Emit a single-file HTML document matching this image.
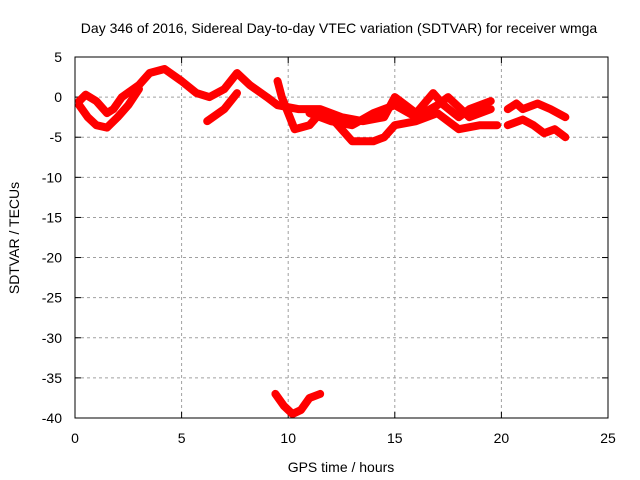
<!DOCTYPE html>
<html><head><meta charset="utf-8"><style>body{margin:0;background:#fff}svg{display:block}text{font-family:"Liberation Sans",sans-serif;font-size:14px;fill:#000}</style></head>
<body>
<svg id="c" width="640" height="480">
<text x="339" y="33" text-anchor="middle">Day 346 of 2016, Sidereal Day-to-day VTEC variation (SDTVAR) for receiver wmga</text>
<text x="341" y="472" text-anchor="middle">GPS time / hours</text>
<text transform="translate(19,238) rotate(-90)" text-anchor="middle">SDTVAR / TECUs</text>
<g id="grid"></g><g id="marks"></g>
<rect x="75" y="57" width="533" height="361" fill="none" stroke="#000"/>
</svg>
<script>
const xTicks=[0,5,10,15,20,25];
const yTicks=[5,0,-5,-10,-15,-20,-25,-30,-35,-40];
const s1=[[0.2,-0.5],[0.5,0.3],[1,-0.5],[1.5,-2],[1.8,-1.5],[2.2,0],[3,1.5],[3.5,3],[4.2,3.5],[5,2],[5.7,0.5],[6.3,0],[7,1],[7.6,3],[8.2,1.5],[9,0],[9.5,-1],[10.5,-1.5],[11.5,-1.5],[12.5,-2.5],[13.5,-3],[14.5,-2.5],[15,0],[15.5,-1],[16,-2],[16.8,0.5],[17.3,-1],[18,-2.5],[18.5,-1.5],[19.5,-0.5]];
const s2=[[0.2,-1],[0.6,-2.5],[1,-3.5],[1.5,-3.8],[2,-2.5],[2.5,-1],[3,1]];
const s3=[[6.2,-3],[7,-1.5],[7.6,0.5]];
const s4=[[9.5,2],[9.7,0],[10,-2],[10.3,-4],[11,-3.5],[11.5,-2],[12,-2.5],[12.5,-4],[13,-5.5],[14,-5.5],[14.5,-5],[15,-3.5],[16,-3],[17,-2],[17.5,-3],[18,-4],[19,-3.5],[19.8,-3.5]];
const s5=[[11,-2],[12,-3],[13,-3.5],[14,-2],[15,-1],[16,-2.5],[17,-1],[17.5,0],[18.5,-2.5],[19.5,-1.5]];
const s6=[[20.3,-1.5],[20.7,-0.8],[21,-1.5],[21.7,-0.8],[22.3,-1.5],[23,-2.5]];
const s7=[[20.3,-3.5],[21,-2.8],[21.5,-3.5],[22,-4.5],[22.5,-4],[23,-5]];
const s8=[[9.4,-37],[9.8,-38.5],[10.2,-39.5],[10.6,-39],[11,-37.5],[11.5,-37]];
const series=[s1,s2,s3,s4,s5,s6,s7,s8];
const NS='http://www.w3.org/2000/svg';
const xs=v=>75+v*533/25, ys=v=>57+(5-v)*361/45;
const g=document.getElementById('grid'), m=document.getElementById('marks');
function mk(tag,attrs,parent){const e=document.createElementNS(NS,tag);for(const k in attrs)e.setAttribute(k,attrs[k]);parent.appendChild(e);return e;}
xTicks.forEach(t=>{const x=xs(t);
 if(t>0&&t<25){const l=mk('line',{x1:x,x2:x,y1:57,y2:418,stroke:'#a0a0a0','stroke-dasharray':'3,3'},g);}
 mk('line',{x1:x,x2:x,y1:418,y2:412,stroke:'#000'},g);mk('line',{x1:x,x2:x,y1:57,y2:63,stroke:'#000'},g);
 const tx=mk('text',{x:x,y:443,'text-anchor':'middle'},g);tx.textContent=t;
 });
yTicks.forEach(t=>{const y=ys(t);
 if(t<5&&t>-40){const l=mk('line',{x1:75,x2:608,y1:y,y2:y,stroke:'#a0a0a0','stroke-dasharray':'3,3'},g);}
 mk('line',{x1:75,x2:81,y1:y,y2:y,stroke:'#000'},g);mk('line',{x1:602,x2:608,y1:y,y2:y,stroke:'#000'},g);
 const tx=mk('text',{x:62,y:y+5,'text-anchor':'end'},g);tx.textContent=t;
 });
series.forEach(s=>{const p=mk('polyline',{points:s.map(d=>xs(d[0])+','+ys(d[1])).join(' '),fill:'none',stroke:'#ff0000','stroke-width':8,'stroke-linejoin':'round','stroke-linecap':'round'},m);
 });
</script>
</body></html>
